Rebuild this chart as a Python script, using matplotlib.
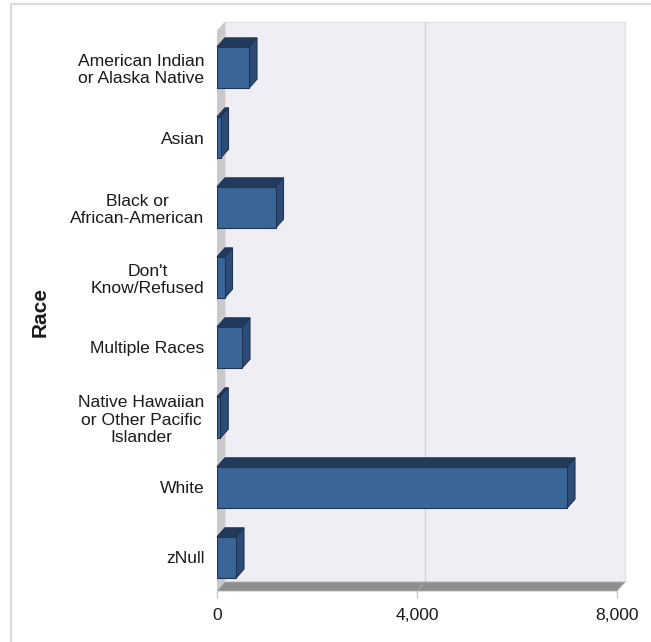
import numpy as np
import matplotlib
matplotlib.use('Agg')
import matplotlib.pyplot as plt
from matplotlib.patches import Polygon, Rectangle
from matplotlib.lines import Line2D

plt.rcParams['font.family'] = ['Liberation Sans', 'DejaVu Sans']

races = ['American Indian\nor Alaska Native', 'Asian', 'Black or\nAfrican-American',
         "Don't\nKnow/Refused", 'Multiple Races',
         'Native Hawaiian\nor Other Pacific\nIslander', 'White', 'zNull']
counts = [640, 70, 1170, 150, 500, 65, 7000, 380]
xticks = [0, 4000, 8000]
xmax = 8000

# 3d look
depth_px = (8, 9)
bar_h = 0.59
front_c = '#3a6597'
top_c = '#223a5c'
side_c = '#2c4c77'
edge_c = '#1e3450'
text_c = '#1a1a1a'

fig = plt.figure(figsize=(6.51, 6.42), dpi=100)
ax = fig.add_axes([217 / 651, 51 / 642, 400 / 651, 560.5 / 642])
ax.set_facecolor('none')
for s in ax.spines.values():
    s.set_visible(False)

ypos = np.arange(len(races))
ytop, ybot = -0.529, 7.479
ax.set_xlim(0, xmax)
ax.set_ylim(ybot, ytop)

# depth offset in data units
p0 = ax.transData.transform((0, 0))
dx, dy = ax.transData.inverted().transform(p0 + np.array(depth_px))

# back wall, left wall, floor
ax.add_patch(Rectangle((dx, ybot + dy), xmax, ytop - ybot, facecolor='#efeef4',
                       edgecolor='#e2e1ea', lw=1, zorder=0, clip_on=False))
ax.add_patch(Polygon([(0, ybot), (0, ytop), (dx, ytop + dy), (dx, ybot + dy)],
                     closed=True, facecolor='#c9c9cb', edgecolor='none', zorder=1, clip_on=False))
ax.add_patch(Polygon([(0, ybot), (xmax, ybot), (xmax + dx, ybot + dy), (dx, ybot + dy)],
                     closed=True, facecolor='#8e8e90', edgecolor='#b0b0b4', lw=0.6, zorder=1, clip_on=False))
for t in xticks[1:-1]:
    ax.add_line(Line2D([t + dx, t + dx], [ybot + dy, ytop + dy], color='#d3d2de', lw=1, zorder=0.5, clip_on=False))
    ax.add_line(Line2D([t, t + dx], [ybot, ybot + dy], color='#a4a4a8', lw=0.8, zorder=1.5, clip_on=False))

# bars: front face, then top and side faces behind it
ax.barh(ypos, counts, height=bar_h, color=front_c, edgecolor=edge_c, lw=0.8, zorder=3)
for y, v in zip(ypos, counts):
    top = y - bar_h / 2
    bot = y + bar_h / 2
    ax.add_patch(Polygon([(0, top), (v, top), (v + dx, top + dy), (dx, top + dy)],
                         closed=True, facecolor=top_c, edgecolor=edge_c, lw=0.8, zorder=2, clip_on=False))
    ax.add_patch(Polygon([(v, top), (v, bot), (v + dx, bot + dy), (v + dx, top + dy)],
                         closed=True, facecolor=side_c, edgecolor=edge_c, lw=0.8, zorder=2, clip_on=False))

ax.set_yticks(ypos)
ax.set_yticklabels(races, fontsize=12.6, color=text_c, multialignment='center')
ax.tick_params(axis='y', length=0, pad=9)
ax.set_xticks(xticks)
ax.set_xticklabels(['{:,}'.format(t) for t in xticks], fontsize=12.6, color=text_c)
ax.tick_params(axis='x', length=5, width=1, color='#c8c8d4', pad=7)

ax.set_ylabel('Race', fontsize=15, fontweight='bold', color=text_c, va='center')
ax.yaxis.set_label_coords(-0.4425, 0.498)

# outer frame (only top and left edges fall inside the image)
fig.add_artist(Rectangle((11 / 651, -0.2), 1.2, 1.2 - 4 / 642, transform=fig.transFigure,
                         fill=False, edgecolor='#dad9e7', lw=1.6))

fig.savefig('out.png', dpi=100)
